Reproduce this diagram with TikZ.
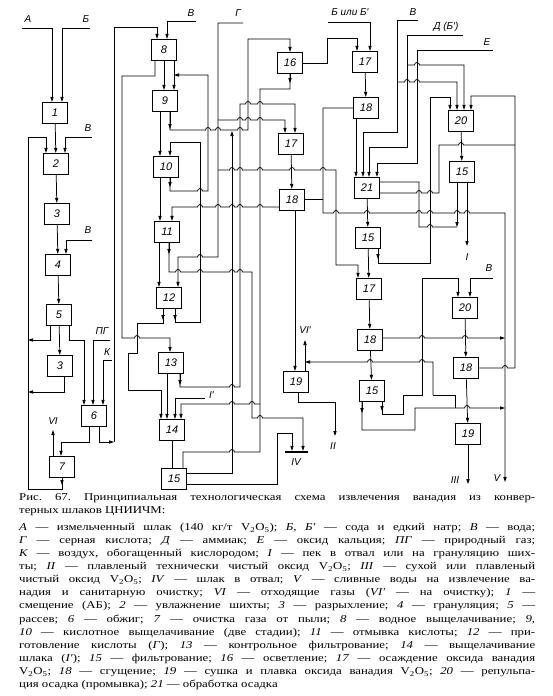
\documentclass[tikz,border=0pt]{standalone}
\usepackage{fontspec}
\setmainfont{Liberation Serif}
\setsansfont{Liberation Sans}
\newfontfamily\capfont{Liberation Serif}[FakeStretch=1.22]
\usetikzlibrary{arrows.meta}
% line hops (rightward / leftward travel)
\newcommand{\hopr}[2]{-- (#1-2.5,#2) arc[start angle=180,end angle=0,radius=2.5pt]}
\newcommand{\hopl}[2]{-- (#1+2.5,#2) arc[start angle=0,end angle=180,radius=2.5pt]}
\begin{document}
\begin{tikzpicture}[x=1pt, y=-1pt,
    unit/.style={draw, line width=1.3pt, minimum width=25pt, minimum height=21pt,
                 inner sep=0pt, font=\sffamily\itshape\fontsize{11}{11}\selectfont},
    flow/.style={line width=0.75pt, -{Triangle[length=5pt,width=3.2pt]}},
    pipe/.style={line width=0.75pt},
    lbl/.style={font=\sffamily\itshape\fontsize{10}{10}\selectfont, inner sep=1pt},
    bar/.style={fill=black, minimum width=23pt, minimum height=2pt, inner sep=0pt},
]
\useasboundingbox (0,0) rectangle (553,696);

% ── Units ────────────────────────────────────────────
\node[unit] (b1)  at (55,113)  {1};
\node[unit] (b2)  at (56,164)  {2};
\node[unit] (b3)  at (57,214)  {3};
\node[unit] (b4)  at (58,265)  {4};
\node[unit] (b5)  at (59,315)  {5};
\node[unit] (b3b) at (60,366)  {3};
\node[unit] (b6)  at (94,416)  {6};
\node[unit] (b7)  at (62,467)  {7};
\node[unit] (b8)  at (164,50)  {8};
\node[unit] (b9)  at (165,101) {9};
\node[unit] (b10) at (166,167) {10};
\node[unit] (b11) at (167,232) {11};
\node[unit] (b12) at (169,298) {12};
\node[unit] (b13) at (171,363) {13};
\node[unit] (b14) at (172,430) {14};
\node[unit] (b15) at (174,479) {15};
\node[unit] (b16) at (290,63)  {16};
\node[unit] (b17) at (291,144) {17};
\node[unit] (b18) at (292,200) {18};
\node[unit] (b19) at (296,382) {19};
\node[unit] (b17r) at (365,62)  {17};
\node[unit] (b18r) at (366,108) {18};
\node[unit] (b21)  at (367,188) {21};
\node[unit] (b15r) at (368,238) {15};
\node[unit] (b20)  at (461,121) {20};
\node[unit] (b15rr) at (462,172) {15};
\node[unit] (b17l) at (369,289) {17};
\node[unit] (b20l) at (465,308) {20};
\node[unit] (b18l) at (370,340) {18};
\node[unit] (b18ll) at (466,368) {18};
\node[unit] (b15l) at (372,391) {15};
\node[unit] (b19l) at (468,434) {19};
\node[bar] (iv) at (296.5,452) {};

% ── Charge preparation and roasting ──────────────────
\node[lbl] (lA) at (28,19) {А};
\node[lbl] (lB) at (86,19) {Б};
\draw[flow] (22,28) -| (b1.north -| 52,0);
\draw[flow] (90,28) -| (b1.north -| 62,0);
\draw[flow] (b1) -- (b2);
\node[lbl] (lV1) at (88,128) {В};
\draw[flow] (92,137) -| (b2.north -| 65,0);
\draw[flow] (b2) -- (b3);
\draw[flow] (b3) -- (b4);
\node[lbl] (lV2) at (88,230) {В};
\draw[flow] (92,240) -| (b4.north -| 66,0);
\draw[flow] (b4) -- (b5);
\draw[flow] (b5) -- (b3b);
\draw[flow] (b5.south -| 50,0) |- (28,340);
\draw[flow] (b3b.south -| 64,0) |- (28,392);
\draw[flow] (b5.south -| 69,0) |- (84,340) -- (b6.north -| 84,0);
\node[lbl] (lPG) at (102,331) {ПГ};
\draw[flow] (110,340) -| (b6.north -| 93,0);
\node[lbl] (lK) at (107,352) {К};
\draw[flow] (112,360) -| (b6.north -| 103,0);
\draw[flow] (b6.south -| 89,0) |- (61,442) -- (b7.north -| 61,0);
\draw[flow] (b6.south -| 99,0) |- (114,442);
\draw[flow] (114,442) |- (157,27) -- (b8.north -| 157,0);
\draw[flow] (b7.north -| 53,0) -- (53,430);
\node[lbl] (lVI) at (53,421) {VI};
\draw[flow] (b7.south) -- (62,485);
\draw[flow] (62,483) |- (28,489) |- (46,137) -- (b2.north -| 46,0);

% ── Leaching line ────────────────────────────────────
\node[lbl] (lV3) at (191,13) {В};
\draw[flow] (196,21) -| (b8.north -| 167,0);
\draw[flow] (b8.south -| 164,0) -- (b9.north -| 164,0);
\draw[flow] (b8.south -| 174,0) -- (b9.north -| 174,0);
\draw[flow] (b8.south -| 155,0) |- (122,76) -- (122,338) \hopr{137}{338} -| (b13.north -| 170,0);
\draw[flow] (b9.south -| 160,0) -- (b10.north -| 160,0);
\draw[flow] (b9.south -| 170,0) -- ++(0,17);
\draw[flow] (b9.south -| 170,0) -- (170,130) \hopr{208}{130} \hopr{218}{130} \hopr{240}{130}
    -- (248,130) |- (290,39) -- (b16.north -| 290,0);
\draw[flow] (b10.south -| 170,0) -- ++(0,9);
\draw[flow] (b10.south -| 170,0) -- (170,191) \hopr{200}{191} -- (208,191) -- (208,75) -- (174,75);
\draw[flow] (b12.south -| 175,0) -- ++(0,11);
\draw[flow] (b12.south -| 175,0) |- (200,322) |- (170,142) -- (b10.north -| 170,0);
\draw[flow] (b10.south -| 160,0) -- (b11.north -| 160,0);
\draw[flow] (b18.west |- 0,207) \hopl{260}{207} \hopl{240}{207} \hopl{232}{207} \hopl{218}{207}
    \hopl{200}{207} -| (b11.north -| 172,0);
\draw[flow] (b11.south -| 159,0) -- (b12.north -| 159,0);
\draw[flow] (b11.south -| 169,0) -- ++(0,11);
\draw[flow] (b11.south -| 169,0) -- (169,272) \hopr{178}{272} \hopr{200}{272} \hopr{232}{272}
    \hopr{240}{272} -- (252,272) -- (252,418) \hopr{260}{418} -| (iv.north -| 303,0);

% ── Sulphuric acid ───────────────────────────────────
\node[lbl] (lG) at (238,13) {Г};
\draw[flow] (243,23) -| (218,257) \hopl{200}{257} -| (b12.north -| 178,0);
\draw[flow] (218,120) \hopr{240}{120} \hopr{248}{120} \hopr{260}{120} -| (b17.north -| 285,0);
\draw[flow] (218,170) \hopr{232}{170} \hopr{240}{170} \hopr{260}{170} \hopr{292}{170}
    \hopr{323}{170} -- (336,170) |- (358,265) -- (b17l.north -| 358,0);

% ── Control filtration and slag leaching ─────────────
\draw[flow] (b13.south -| 167,0) -- (b14.north -| 167,0);
\draw[flow] (b13.south -| 180,0) -- ++(0,11);
\draw[flow] (b13.south -| 180,0) -- (180,387) \hopr{232}{387} -- (240,387) -- (240,104)
    \hopr{248}{104} \hopr{260}{104} -- (295,104) -- (b17.north -| 295,0);
\draw[flow] (b12.south -| 163,0) -- ++(0,11);
\draw[flow] (b12.south -| 163,0) |- (137,323) |- (128,353) |- (161,390) -- (b14.north -| 161,0);
\node[lbl, anchor=west] (lI1) at (208,395) {I′};
\draw[flow] (205,398) -| (b14.north -| 175,0);
\draw[flow] (b16.south) -- ++(0,9);
\draw[pipe] (b16.south) |- (260,89) -- (260,452) \hopl{232}{452} -| (b15.north -| 183,0);
\draw[flow] (260,404) \hopl{252}{404} \hopl{232}{404} -| (b14.north -| 181,0);
\draw[pipe] (b14.south -| 172,0) -- (b15.north -| 172,0);
\draw[flow] (b15.east |- 0,473) -| (232,131);
\draw[flow] (b15.east |- 0,484) -| (277,433) -| (iv.north -| 292,0);
\node[lbl] (lIV) at (296,462) {IV};

% ── Precipitation and melting ────────────────────────
\draw[flow] (b16.east) -| (327,38) -| (b17r.north -| 357,0);
\draw[flow] (b17) -- (b18);
\draw[pipe] (b18.east |- 0,199) -- (323,199);
\draw[flow] (b18.south -| 295,0) -- (b19.north -| 295,0);
\draw[flow] (b19.north -| 305,0) -- (305,340);
\node[lbl] (lVI1) at (305,330) {VI′};
\draw[flow] (b19.south -| 298,0) |- (335,402) -- (335,436);
\node[lbl] (lII) at (333,446) {II};

% ── Precipitate treatment ────────────────────────────
\node[lbl] (lBB) at (350,12) {Б или Б′};
\draw[flow] (328,22) -| (b17r.north -| 370,0);
\draw[flow] (b17r) -- (b18r);
\draw[flow] (b18r.south -| 356,0) -- (b21.north -| 356,0);
\draw[flow] (b18r.west) -| (323,213) \hopr{336}{213} \hopr{367}{213} \hopr{419}{213} \hopr{430}{213}
    \hopr{457}{213} \hopr{467}{213} -- (505,213) -- (505,482);
\node[lbl] (lV) at (497,478) {V};
\node[lbl] (lVv) at (413,12) {В};
\draw[flow] (418,20) -| (397,132) -| (b21.north -| 363,0);
\draw[flow] (397,82) \hopr{407}{82} \hopr{417}{82} -| (b20.north -| 457,0);
\node[lbl] (lD) at (446,27) {Д (Б′)};
\draw[flow] (463,35) -| (407,147) -| (b21.north -| 369,0);
\draw[flow] (407,65) \hopr{417}{65} -| (b20.north -| 464,0);
\node[lbl] (lE) at (487,42) {Е};
\draw[flow] (493,50) -| (417,163) -| (b21.north -| 377,0);
\draw[pipe] (b21.east |- 0,182) -| (419,227) \hopr{430}{227} -- (457,227);
\draw[flow] (b15rr.south -| 457,0) -- (457,227);
\draw[pipe] (b21.east |- 0,193) \hopr{419}{193} \hopr{430}{193} -- (439,193) -- (439,145)
    \hopr{461}{145} -- (515,145);
\draw[flow] (b20) -- (b15rr);
\draw[flow] (b15rr.south -| 467,0) -- (467,246);
\node[lbl] (lI) at (467,257) {I};
\draw[flow] (b21) -- (b15r);
\draw[flow] (b15r) -- (b17l);
\draw[flow] (b15r.south -| 378,0) -- ++(0,10);
\draw[flow] (b15r.south -| 378,0) |- (430,263) |- (450,97) -- (b20.north -| 450,0);
\draw[flow] (b18ll.east) \hopr{505}{368} -- (515,368) -- (515,96) -| (b20.north -| 471,0);

% ── Second precipitation and wash ────────────────────
\draw[flow] (b17l) -- (b18l);
\node[lbl] (lVw) at (489,268) {В};
\draw[flow] (493,278) -| (b20l.north -| 470,0);
\draw[flow] (b20l) -- (b18ll);
\draw[flow] (b18l.east |- 0,338) \hopr{422}{338} \hopr{465}{338} -- (505,338);
\draw[flow] (b18l) -- (b15l);
\draw[flow] (433,395) -- (433,362) \hopl{422}{362} \hopl{370}{362} -- (305,362);
\draw[pipe] (433,395) -| (455,408);
\draw[flow] (b15l.south -| 382,0) -- ++(0,9);
\draw[flow] (b15l.south -| 382,0) |- (403,414) |- (422,395) |- (458,278) -- (b20l.north -| 458,0);
\draw[flow] (b15l.south -| 362,0) -- ++(0,11);
\draw[flow] (b15l.south -| 362,0) |- (415,430) -- (415,408) \hopr{467}{408} -- (505,408);
\draw[flow] (b18ll) -- (b19l);
\draw[flow] (b19l) -- (468,484);
\node[lbl] (lIII) at (455,480) {III};

% ── Caption ──────────────────────────────────────────
\node[anchor=north west, text width=516pt, align=justify, inner sep=0pt,
      font=\capfont\fontsize{10.5}{13.1}\selectfont\frenchspacing] (cap) at (19,493) {%
Рис. 67. Принципиальная технологическая схема извлечения ванадия из конвер-\linebreak
терных шлаков ЦНИИЧМ:\par\vspace{4pt}
\textit{А} — измельченный шлак (140 кг/т V\textsubscript{2}O\textsubscript{5}); \textit{Б, Б′} — сода и едкий натр; \textit{В} — вода;\linebreak
\textit{Г} — серная кислота; \textit{Д} — аммиак; \textit{Е} — оксид кальция; \textit{ПГ} — природный газ;\linebreak
\textit{К} — воздух, обогащенный кислородом; \textit{I} — пек в отвал или на грануляцию ших-\linebreak
ты; \textit{II} — плавленый технически чистый оксид V\textsubscript{2}O\textsubscript{5}; \textit{III} — сухой или плавленый\linebreak
чистый оксид V\textsubscript{2}O\textsubscript{5}; \textit{IV} — шлак в отвал; \textit{V} — сливные воды на извлечение ва-\linebreak
надия и санитарную очистку; \textit{VI} — отходящие газы (\textit{VI′} — на очистку); \textit{1} —\linebreak
смещение (АБ); \textit{2} — увлажнение шихты; \textit{3} — разрыхление; \textit{4} — грануляция; \textit{5} —\linebreak
рассев; \textit{6} — обжиг; \textit{7} — очистка газа от пыли; \textit{8} — водное выщелачивание; \textit{9},\linebreak
\textit{10} — кислотное выщелачивание (две стадии); \textit{11} — отмывка кислоты; \textit{12} — при-\linebreak
готовление кислоты (\textit{Г}); \textit{13} — контрольное фильтрование; \textit{14} — выщелачивание\linebreak
шлака (\textit{I′}); \textit{15} — фильтрование; \textit{16} — осветление; \textit{17} — осаждение оксида ванадия\linebreak
V\textsubscript{2}O\textsubscript{5}; \textit{18} — сгущение; \textit{19} — сушка и плавка оксида ванадия V\textsubscript{2}O\textsubscript{5}; \textit{20} — репульпа-\linebreak
ция осадка (промывка); \textit{21} — обработка осадка};
\end{tikzpicture}
\end{document}
